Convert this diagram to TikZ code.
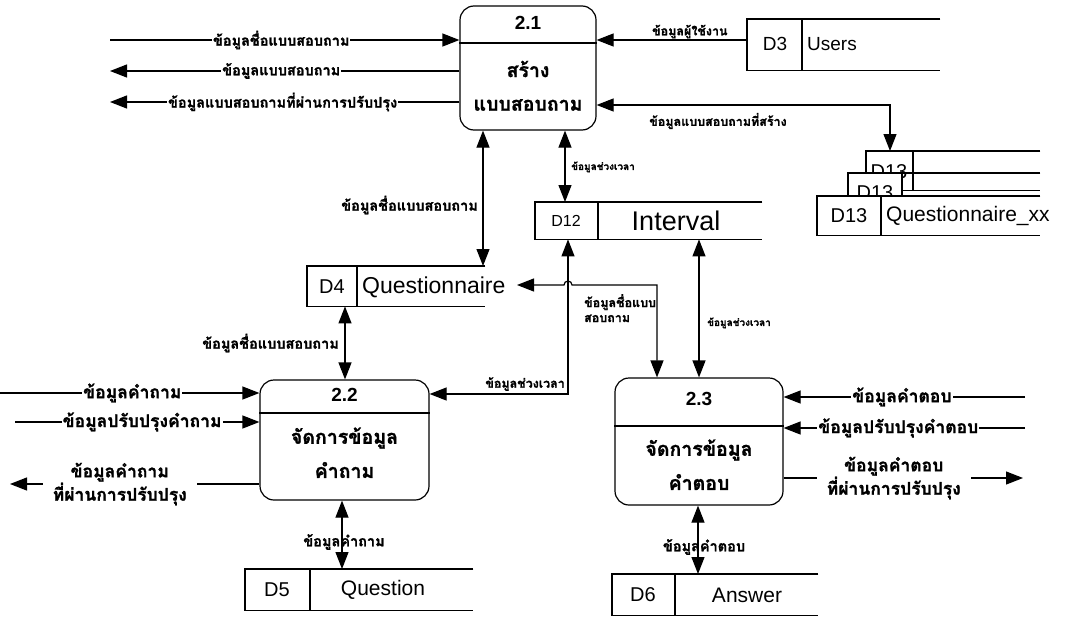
\documentclass[tikz,border=0pt]{standalone}
\usepackage{fontspec}
\setmainfont{Liberation Sans}
\newfontfamily\thai[Script=Thai,BoldFeatures={FakeBold=1.2}]{Loma}
\usetikzlibrary{arrows.meta,calc}

\tikzset{
  tip/.tip={Triangle[length=17pt,width=13pt]},
  wire/.style={line width=1.2pt},
  flow/.style={wire,-tip},
  both/.style={wire,tip-tip},
  proc/.style={draw,line width=1.2pt,rounded corners=14pt,inner sep=0pt},
  ptitle/.style={font=\bfseries\fontsize{19}{20}\selectfont,inner sep=0pt},
  ptext/.style={font=\thai\bfseries\fontsize{19.5}{22}\selectfont,inner sep=0pt},
  labm/.style={font=\thai\bfseries\fontsize{14.5}{17}\selectfont,inner sep=1pt},
  labs/.style={font=\thai\bfseries\fontsize{12.5}{15}\selectfont,inner sep=1pt},
  labt/.style={font=\thai\bfseries\fontsize{10}{12}\selectfont,inner sep=1pt},
  labl/.style={font=\thai\bfseries\fontsize{17.5}{21}\selectfont,inner sep=1pt},
  onwire/.style={fill=white},
  sbody/.style={inner sep=0pt,anchor=north west},
  sid/.style={font=\fontsize{20}{22}\selectfont,inner sep=0pt},
  sname/.style={font=\fontsize{21}{23}\selectfont,inner sep=0pt},
}

% data store: open-ended box with an id compartment
\newcommand\datastore[5]{% name, nw corner, width, height, id width
  \node[sbody,minimum width=#3pt,minimum height=#4pt] (#1) at (#2) {};
  \draw[wire] (#1.north east) -- (#1.north west) -- (#1.south west) -- (#1.south east);
  \draw[wire] ($(#1.north west)+(#5,0)$) -- ($(#1.south west)+(#5,0)$);
}

\begin{document}
\begin{tikzpicture}[x=1pt,y=-1pt]
\useasboundingbox (0,0) rectangle (1076,616);

% ---------- processes ----------
\node[proc,minimum width=136pt,minimum height=124pt] (p21) at (528,68) {};
\draw[wire] (p21.west |- 0,43) -- (p21.east |- 0,43);
\node[ptitle] (p21t) at (528,23) {2.1};
\node[ptext] (p21a) at (528,69) {สร้าง};
\node[ptext] (p21b) at (528,105) {แบบสอบถาม};

\node[proc,minimum width=169pt,minimum height=120pt] (p22) at (344.5,440) {};
\draw[wire] (p22.west |- 0,413) -- (p22.east |- 0,413);
\node[ptitle] (p22t) at (344.5,395) {2.2};
\node[ptext] (p22a) at (344.5,438) {จัดการข้อมูล};
\node[ptext] (p22b) at (344.5,470) {คำถาม};

\node[proc,minimum width=168pt,minimum height=127pt] (p23) at (699,441.5) {};
\draw[wire] (p23.west |- 0,426) -- (p23.east |- 0,426);
\node[ptitle] (p23t) at (699,399) {2.3};
\node[ptext] (p23a) at (699,450) {จัดการข้อมูล};
\node[ptext] (p23b) at (699,482) {คำตอบ};

% ---------- data stores ----------
\datastore{d3}{747,19}{193}{51}{55}
\node[sid,font=\fontsize{19}{21}\selectfont] (d3id) at (775,44) {D3};
\node[sname,anchor=west,font=\fontsize{19}{21}\selectfont] (d3nm) at (807,44) {Users};

\datastore{d12}{535,202}{227}{37}{63}
\node[sid,font=\fontsize{16}{18}\selectfont] (d12id) at (566,221) {D12};
\node[sname,font=\fontsize{27}{29}\selectfont] (d12nm) at (676,221) {Interval};

\datastore{d4}{307,266}{178}{40}{50}
\node[sid] (d4id) at (332,287) {D4};
\node[sname,anchor=west,font=\fontsize{23}{25}\selectfont] (d4nm) at (362,287) {Questionnaire};

\datastore{d5}{245,569}{228}{41}{65}
\node[sid] (d5id) at (277,590) {D5};
\node[sname] (d5nm) at (383,590) {Question};

\datastore{d6}{612,574}{206}{41}{63}
\node[sid] (d6id) at (643,595) {D6};
\node[sname] (d6nm) at (747,595) {Answer};

% stacked copies of the questionnaire store
\node[sbody,minimum width=174pt,minimum height=39pt,fill=white] (d13a) at (866,151) {};
\draw[wire] (d13a.north east) -- (d13a.north west) -- (d13a.south west) -- (d13a.south east);
\draw[wire] ($(d13a.north west)+(47,0)$) -- ($(d13a.south west)+(47,0)$);
\node[sid] (d13aid) at (889,172) {D13};
\node[sbody,minimum width=192pt,minimum height=39pt] (d13b) at (848,173) {};
\fill[white] (d13b.north west) rectangle ($(d13b.south west)+(54,0)$);
\draw[wire] (d13b.north east) -- (d13b.north west) -- (d13b.south west) -- (d13b.south east);
\draw[wire] ($(d13b.north west)+(54,0)$) -- ($(d13b.south west)+(54,0)$);
\node[sid] (d13bid) at (875,193) {D13};
\node[sbody,minimum width=223pt,minimum height=39pt,fill=white] (d13c) at (817,196) {};
\draw[wire] (d13c.north east) -- (d13c.north west) -- (d13c.south west) -- (d13c.south east);
\draw[wire] ($(d13c.north west)+(64,0)$) -- ($(d13c.south west)+(64,0)$);
\node[sid] (d13cid) at (849,216) {D13};
\node[sname,anchor=west] (d13cnm) at (886,216) {Questionnaire\_xx};

% ---------- free ends ----------
\coordinate (l1) at (110,40);
\coordinate (l2) at (110,71);
\coordinate (l3) at (110,102);
\coordinate (l4) at (0,393);
\coordinate (l5) at (15,422);
\coordinate (l6) at (10,484);
\coordinate (r1) at (1025,397);
\coordinate (r2) at (1025,428);
\coordinate (r3) at (1023,478);
\coordinate (q4) at (517,285);
\coordinate (x342) at (342,0);
\coordinate (x345) at (345,0);
\coordinate (x483) at (483,0);
\coordinate (x565) at (565,0);
\coordinate (x568) at (568,0);
\coordinate (x657) at (657,0);
\coordinate (x698) at (698,0);
\coordinate (x699) at (699,0);
\coordinate (x890) at (890,0);

% ---------- flows around 2.1 ----------
\draw[flow] (l1) -- (l1 -| p21.west) node[labm,onwire,pos=0.49] (f1) {ข้อมูลชื่อแบบสอบถาม};
\draw[flow] (l2 -| p21.west) -- (l2) node[labm,onwire,pos=0.51] (f2) {ข้อมูลแบบสอบถาม};
\draw[flow] (l3 -| p21.west) -- (l3) node[labm,onwire,pos=0.506] (f3) {ข้อมูลแบบสอบถามที่ผ่านการปรับปรุง};
\draw[flow] (d3.west |- 0,40) -- (p21.east |- 0,40) node[labs,above,pos=0.38] (f4) {ข้อมูลผู้ใช้งาน};
\draw[both] (p21.east |- 0,105) -| (d13a.north west -| x890);
\node[labs] (f5) at (718,121) {ข้อมูลแบบสอบถามที่สร้าง};
\draw[both] (x483 |- p21.south) -- (x483 |- d4.north);
\node[labm,anchor=east] (f6) at (479,205) {ข้อมูลชื่อแบบสอบถาม};
\draw[both] (x565 |- p21.south) -- (x565 |- d12.north);
\node[labt,anchor=west] (f7) at (570,167) {ข้อมูลช่วงเวลา};

% ---------- flows between stores and 2.2 / 2.3 ----------
\draw[both] (x345 |- d4.south) -- (x345 |- p22.north);
\node[labm,anchor=east] (f8) at (340,343) {ข้อมูลชื่อแบบสอบถาม};
\draw[both] (x568 |- d12.south) |- (p22.east |- 0,394);
\node[labs,anchor=south east] (f9) at (566,392) {ข้อมูลช่วงเวลา};
\draw[both] (p23.north -| x657) -- (x657 |- q4) -- (572,285) arc[start angle=0,end angle=-180,radius=4] -- (q4);
\node[labs,anchor=north west,align=left] (f10) at (583,293) {ข้อมูลชื่อแบบ\\สอบถาม};
\draw[both] (x699 |- d12.south) -- (x699 |- p23.north);
\node[labt,anchor=west] (f11) at (706,323) {ข้อมูลช่วงเวลา};

% ---------- external flows of 2.2 ----------
\draw[flow] (l4) -- (l4 -| p22.west) node[labl,onwire,pos=0.51] (f12) {ข้อมูลคำถาม};
\draw[flow] (l5) -- (l5 -| p22.west) node[labl,onwire,pos=0.52] (f13) {ข้อมูลปรับปรุงคำถาม};
\draw[flow] (l6 -| p22.west) -- (l6) node[labl,onwire,pos=0.56,align=center,inner xsep=10pt] (f14) {ข้อมูลคำถาม\\ที่ผ่านการปรับปรุง};
\draw[both] (x342 |- p22.south) -- (x342 |- d5.north);
\node[labm] (f15) at (344,542) {ข้อมูลคำถาม};

% ---------- external flows of 2.3 ----------
\draw[flow] (r1) -- (r1 -| p23.east) node[labl,onwire,pos=0.51] (f16) {ข้อมูลคำตอบ};
\draw[flow] (r2) -- (r2 -| p23.east) node[labl,onwire,pos=0.525] (f17) {ข้อมูลปรับปรุงคำตอบ};
\draw[flow] (r3 -| p23.east) -- (r3) node[labl,onwire,pos=0.46,align=center,inner xsep=10pt] (f18) {ข้อมูลคำตอบ\\ที่ผ่านการปรับปรุง};
\draw[both] (x698 |- p23.south) -- (x698 |- d6.north);
\node[labm] (f19) at (704,547) {ข้อมูลคำตอบ};
\end{tikzpicture}
\end{document}
